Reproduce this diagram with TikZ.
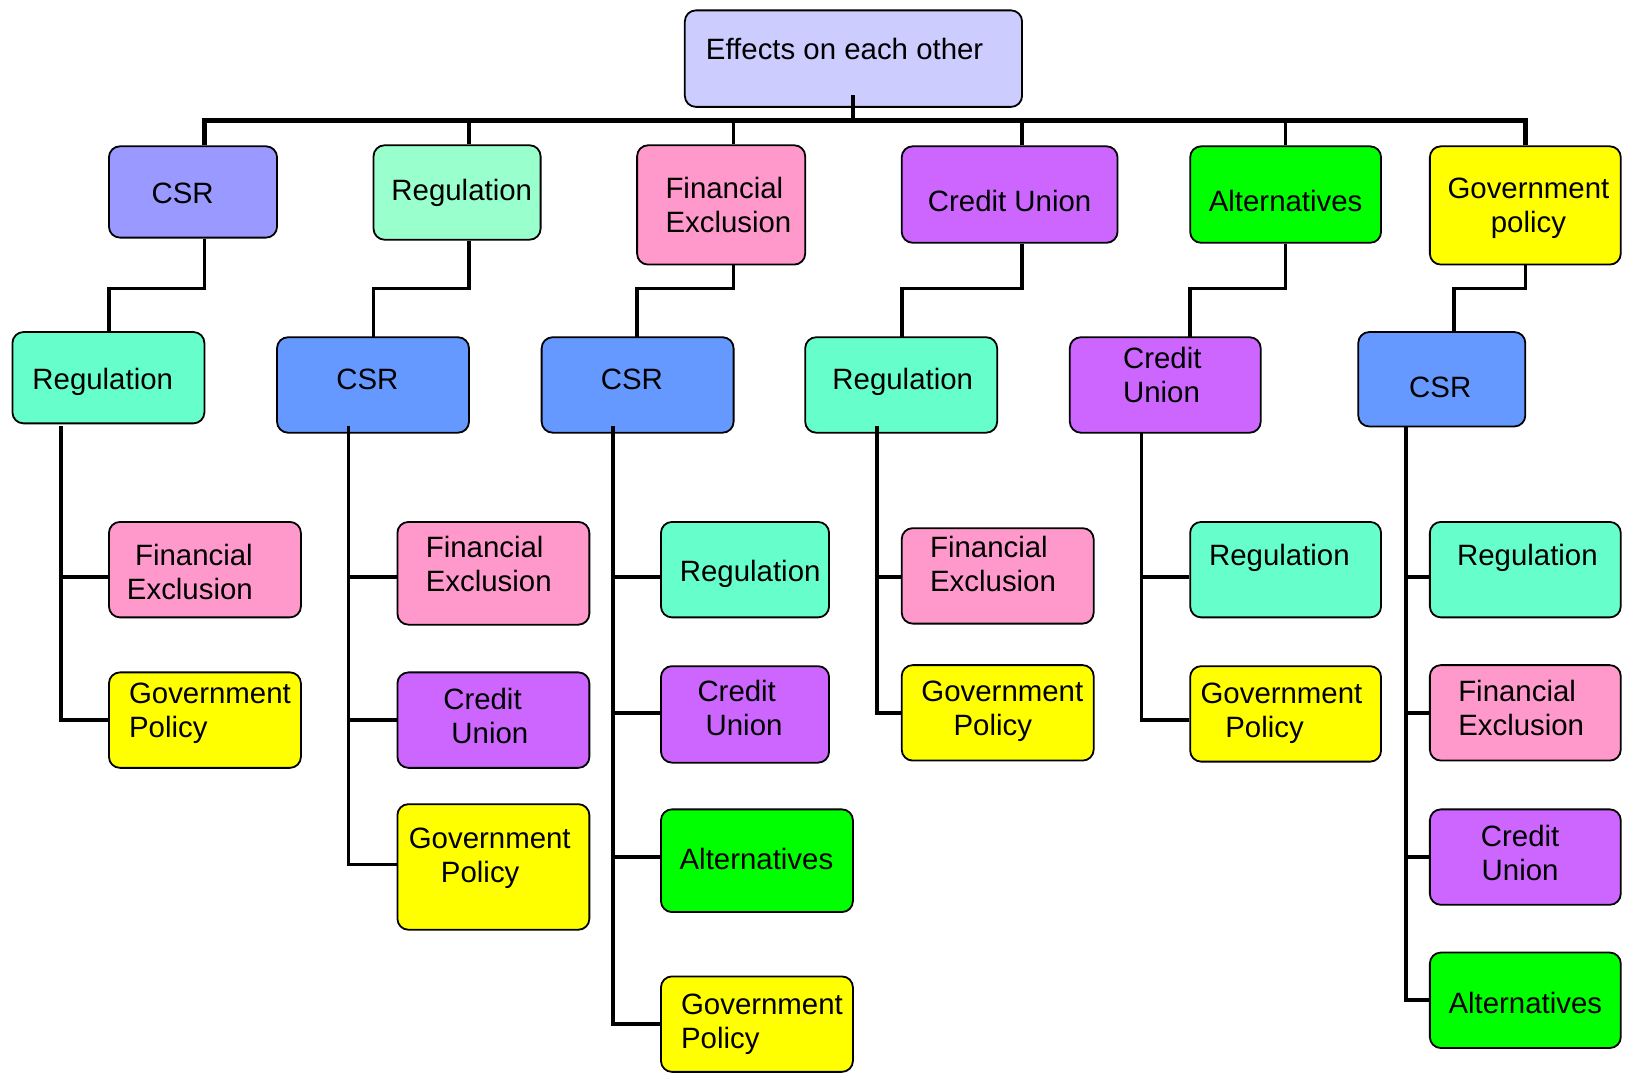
\documentclass[tikz,border=0pt]{standalone}
\usepackage{fontspec}
\setmainfont{Liberation Sans}
\usetikzlibrary{fit}

\definecolor{rootc}{HTML}{CCCCFF}
\definecolor{csrA}{HTML}{9999FF}
\definecolor{regA}{HTML}{99FFCC}
\definecolor{finex}{HTML}{FF99CC}
\definecolor{cunion}{HTML}{CC66FF}
\definecolor{altc}{HTML}{00FF00}
\definecolor{govc}{HTML}{FFFF00}
\definecolor{regB}{HTML}{66FFCC}
\definecolor{csrB}{HTML}{6699FF}

% one- and two-line labels with uniform line height
\newcommand\onel[1]{\strut #1}
\newcommand\twol[2]{\strut #1\\\strut #2}
% rounded box spanning two corner points
\newcommand\cbox[6]{\node[box, fill=#6, fit={(#2,#3) (#4,#5)}] (#1) {};}

\begin{document}
\begin{tikzpicture}[x=0.5188pt, y=-0.5188pt,
  box/.style={draw=black, line width=0.9pt, rounded corners=5.5pt, inner sep=0pt},
  txt/.style={font=\fontsize{14.7}{17}\selectfont, inner sep=0pt, align=center, yshift=-1.9pt},
  conn/.style={line width=1.8pt},
  busline/.style={line width=2.2pt}]
\useasboundingbox (0,0) rectangle (1568,1042);

% ---------- boxes ----------
\cbox{root}{660}{10}{985}{103}{rootc}

\cbox{A1}{105}{141}{267}{229}{csrA}
\cbox{A2}{360}{140}{521}{231}{regA}
\cbox{A3}{614}{140}{776}{255}{finex}
\cbox{A4}{869}{141}{1077}{234}{cunion}
\cbox{A5}{1147}{141}{1331}{234}{altc}
\cbox{A6}{1378}{141}{1562}{255}{govc}

\cbox{B1}{12}{320}{197}{408}{regB}
\cbox{B2}{267}{325}{452}{417}{csrB}
\cbox{B3}{522}{325}{707}{417}{csrB}
\cbox{B4}{776}{325}{961}{417}{regB}
\cbox{B5}{1031}{325}{1215}{417}{cunion}
\cbox{B6}{1309}{320}{1470}{411}{csrB}

\cbox{C11}{105}{503}{290}{595}{finex}
\cbox{C12}{105}{648}{290}{740}{govc}

\cbox{C21}{383}{503}{568}{602}{finex}
\cbox{C22}{383}{648}{568}{740}{cunion}
\cbox{C23}{383}{775}{568}{896}{govc}

\cbox{C31}{637}{503}{799}{595}{regB}
\cbox{C32}{637}{642}{799}{735}{cunion}
\cbox{C33}{637}{780}{822}{879}{altc}
\cbox{C34}{637}{941}{822}{1033}{govc}

\cbox{C41}{869}{509}{1054}{601}{finex}
\cbox{C42}{869}{641}{1054}{733}{govc}

\cbox{C51}{1147}{503}{1331}{595}{regB}
\cbox{C52}{1147}{642}{1331}{734}{govc}

\cbox{C61}{1378}{503}{1562}{595}{regB}
\cbox{C62}{1378}{641}{1562}{733}{finex}
\cbox{C63}{1378}{780}{1562}{872}{cunion}
\cbox{C64}{1378}{918}{1562}{1010}{altc}

% ---------- labels ----------
\node[txt, anchor=west] (roott) at (680,47) {\onel{Effects on each other}};

\node[txt] (A1t) at (176,186) {\onel{CSR}};
\node[txt] (A2t) at (445,183) {\onel{Regulation}};
\node[txt, anchor=west, align=left] (A3t) at (641,197.5) {\twol{Financial}{Exclusion}};
\node[txt] (A4t) at (973,194) {\onel{Credit Union}};
\node[txt] (A5t) at (1239,194) {\onel{Alternatives}};
\node[txt] (A6t) at (1473,197.5) {\twol{Government}{policy}};

\node[txt] (B1t) at (99,365) {\onel{Regulation}};
\node[txt] (B2t) at (354,365) {\onel{CSR}};
\node[txt] (B3t) at (609,365) {\onel{CSR}};
\node[txt] (B4t) at (870,365) {\onel{Regulation}};
\node[txt, anchor=west, align=left] (B5t) at (1082,361.5) {\twol{Credit}{Union}};
\node[txt] (B6t) at (1388,373) {\onel{CSR}};

\node[txt, anchor=east, align=right] (C11t) at (244,551) {\twol{Financial}{Exclusion}};
\node[txt, anchor=west, align=left] (C12t) at (124,684.5) {\twol{Government}{Policy}};

\node[txt, anchor=west, align=left] (C21t) at (410,543.5) {\twol{Financial}{Exclusion}};
\node[txt] (C22t) at (465,690) {\twol{Credit}{\hspace*{0.5em}Union}};
\node[txt] (C23t) at (472,823.5) {\twol{Government}{Policy\hspace*{0.65em}}};

\node[txt] (C31t) at (723,550) {\onel{Regulation}};
\node[txt] (C32t) at (710,682.5) {\twol{Credit}{\hspace*{0.5em}Union}};
\node[txt] (C33t) at (729,828) {\onel{Alternatives}};
\node[txt, anchor=west, align=left] (C34t) at (656,983.5) {\twol{Government}{Policy}};

\node[txt] (C42t) at (966,682.5) {\twol{Government}{Policy\hspace*{0.65em}}};
\node[txt, anchor=west, align=left] (C41t) at (896,543.5) {\twol{Financial}{Exclusion}};

\node[txt] (C51t) at (1233,535) {\onel{Regulation}};
\node[txt] (C52t) at (1235,684.5) {\twol{Government}{Policy\hspace*{1.15em}}};

\node[txt] (C61t) at (1472,535) {\onel{Regulation}};
\node[txt, anchor=west, align=left] (C62t) at (1405,682.5) {\twol{Financial}{Exclusion}};
\node[txt] (C63t) at (1465,821.5) {\twol{Credit}{Union}};
\node[txt] (C64t) at (1470,967) {\onel{Alternatives}};

% ---------- bus from the root to the first row ----------
\coordinate (bus) at (822,116);
\coordinate (d1) at (197,116);
\coordinate (d2) at (452,116);
\coordinate (d3) at (707,116);
\coordinate (d4) at (985,116);
\coordinate (d5) at (1239,116);
\coordinate (d6) at (1470,116);

\draw[conn] (bus) -- ++(0,-24);
\draw[busline] (d1 |- A1.north) -- (d1) -- (d6) -- (d6 |- A6.north);
\foreach \i in {2,3,4,5}
  \draw[conn] (d\i) -- (d\i |- A\i.north);

% ---------- elbows from the first row to the second ----------
\coordinate (e1) at (105,278);
\coordinate (e2) at (360,278);
\coordinate (e3) at (614,278);
\coordinate (e4) at (869,278);
\coordinate (e5) at (1147,278);
\coordinate (e6) at (1401,278);
\foreach \i in {1,...,6}
  \draw[conn] (A\i.south -| d\i) |- (e\i) -- ([yshift=-1pt]e\i |- B\i.north);

% ---------- trunks and branches to the third row ----------
\coordinate (t1) at (59,411);
\coordinate (t2) at (336,411);
\coordinate (t3) at (591,411);
\coordinate (t4) at (845,411);
\coordinate (t5) at (1100,417);
\coordinate (t6) at (1355,411);

\draw[conn] (t1) |- (C12.west |- 0,694);
\draw[conn] (t1 |- 0,556) -- (C11.west |- 0,556);

\draw[conn] (t2) |- (C23.west |- 0,833);
\draw[conn] (t2 |- 0,556) -- (C21.west |- 0,556);
\draw[conn] (t2 |- 0,694) -- (C22.west |- 0,694);

\draw[conn] (t3) |- (C34.west |- 0,987);
\draw[conn] (t3 |- 0,556) -- (C31.west |- 0,556);
\draw[conn] (t3 |- 0,687) -- (C32.west |- 0,687);
\draw[conn] (t3 |- 0,826) -- (C33.west |- 0,826);

\draw[conn] (t4) |- (C42.west |- 0,687);
\draw[conn] (t4 |- 0,556) -- (C41.west |- 0,556);

\draw[conn] (t5) |- (C52.west |- 0,694);
\draw[conn] (t5 |- 0,556) -- (C51.west |- 0,556);

\draw[conn] (t6) |- (C64.west |- 0,964);
\draw[conn] (t6 |- 0,556) -- (C61.west |- 0,556);
\draw[conn] (t6 |- 0,687) -- (C62.west |- 0,687);
\draw[conn] (t6 |- 0,826) -- (C63.west |- 0,826);
\end{tikzpicture}
\end{document}
